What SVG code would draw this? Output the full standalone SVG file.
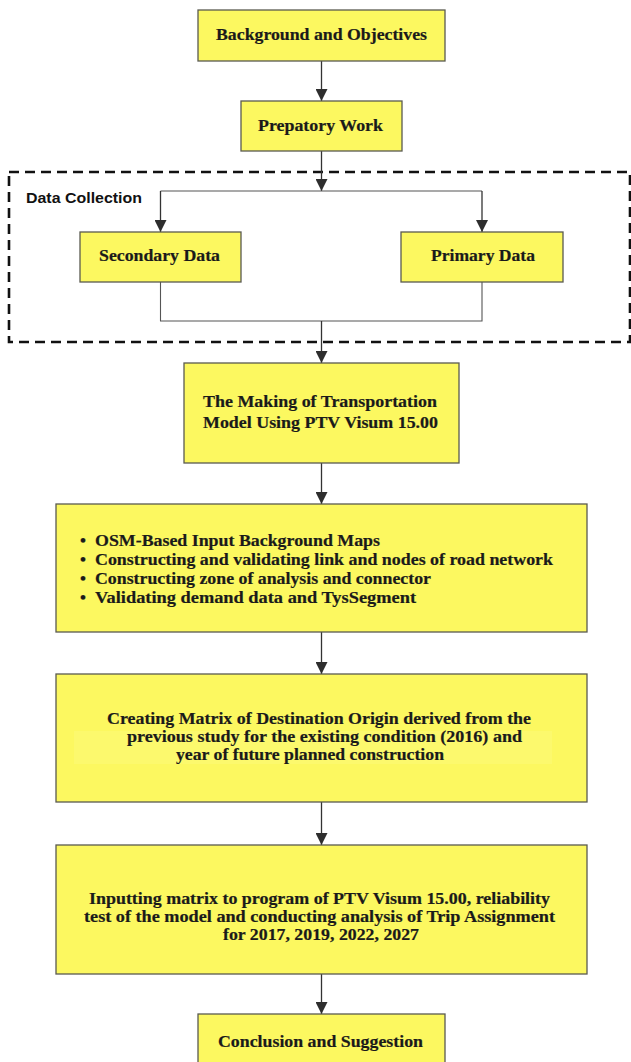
<svg xmlns="http://www.w3.org/2000/svg" width="631" height="1062" viewBox="0 0 631 1062">
<defs>
<marker id="ah" viewBox="0 0 12 12" refX="12" refY="6" markerWidth="12" markerHeight="12" markerUnits="userSpaceOnUse" orient="auto">
<path d="M0,0 L12,6 L0,12 Z" fill="#2e2e2e"/>
</marker>
<style>
.box{fill:#FCF860;stroke:#5a5a50;stroke-width:1.3}
.t{font-family:"Liberation Serif","Times New Roman",serif;font-weight:bold;font-size:17px;fill:#1a1a1a;stroke:#1a1a1a;stroke-width:0.2}
.c{fill:none;stroke:#333;stroke-width:1.3}
.cl{fill:none;stroke:#555;stroke-width:1.1}
.dash{fill:none;stroke:#111;stroke-width:2.6;stroke-dasharray:10 6}
.lbl{font-family:"Liberation Sans",Arial,sans-serif;font-weight:bold;font-size:15.5px;fill:#111}
</style>
</defs>
<rect width="631" height="1062" fill="#ffffff"/>

<g id="data-collection">
<rect class="dash" x="9" y="172" width="621" height="170"/>
<text class="lbl" x="26" y="203" textLength="116" lengthAdjust="spacingAndGlyphs">Data Collection</text>
</g>

<g id="connectors">
<line class="c" x1="321.5" y1="61" x2="321.5" y2="101" marker-end="url(#ah)"/>
<line class="c" x1="321.5" y1="151" x2="321.5" y2="191" marker-end="url(#ah)"/>
<polyline class="cl" points="160.5,191 482,191"/>
<line class="c" x1="160.5" y1="191" x2="160.5" y2="232" marker-end="url(#ah)"/>
<line class="c" x1="482" y1="191" x2="482" y2="232" marker-end="url(#ah)"/>
<polyline class="cl" points="160.5,282 160.5,321 482,321 482,282"/>
<line class="c" x1="321.5" y1="321" x2="321.5" y2="363" marker-end="url(#ah)"/>
<line class="c" x1="321.5" y1="463" x2="321.5" y2="504" marker-end="url(#ah)"/>
<line class="c" x1="321.5" y1="632" x2="321.5" y2="674" marker-end="url(#ah)"/>
<line class="c" x1="321.5" y1="802" x2="321.5" y2="845" marker-end="url(#ah)"/>
<line class="c" x1="321.5" y1="974" x2="321.5" y2="1014" marker-end="url(#ah)"/>
</g>

<g id="background">
<rect class="box" x="198" y="10" width="247" height="51"/>
<text class="t" x="216" y="40" textLength="211" lengthAdjust="spacingAndGlyphs">Background and Objectives</text>
</g>

<g id="preparatory">
<rect class="box" x="241" y="101" width="161" height="50"/>
<text class="t" x="258" y="131" textLength="125" lengthAdjust="spacingAndGlyphs">Prepatory Work</text>
</g>

<g id="secondary">
<rect class="box" x="80" y="232" width="161" height="50"/>
<text class="t" x="99" y="261" textLength="121" lengthAdjust="spacingAndGlyphs">Secondary Data</text>
</g>

<g id="primary">
<rect class="box" x="401" y="232" width="162" height="50"/>
<text class="t" x="431" y="261" textLength="104" lengthAdjust="spacingAndGlyphs">Primary Data</text>
</g>

<g id="model">
<rect class="box" x="184" y="363" width="275" height="100"/>
<text class="t" x="203" y="407" textLength="234" lengthAdjust="spacingAndGlyphs">The Making of Transportation</text>
<text class="t" x="203" y="428" textLength="235" lengthAdjust="spacingAndGlyphs">Model Using PTV Visum 15.00</text>
</g>

<g id="steps">
<rect class="box" x="56" y="504" width="531" height="128"/>
<text class="t" x="80" y="546">•</text>
<text class="t" x="95" y="546" textLength="285" lengthAdjust="spacingAndGlyphs">OSM-Based Input Background Maps</text>
<text class="t" x="80" y="565">•</text>
<text class="t" x="95" y="565" textLength="458" lengthAdjust="spacingAndGlyphs">Constructing and validating link and nodes of road network</text>
<text class="t" x="80" y="584">•</text>
<text class="t" x="95" y="584" textLength="336" lengthAdjust="spacingAndGlyphs">Constructing zone of analysis and connector</text>
<text class="t" x="80" y="603">•</text>
<text class="t" x="95" y="603" textLength="321" lengthAdjust="spacingAndGlyphs">Validating  demand data and TysSegment</text>
</g>

<g id="matrix">
<rect class="box" x="56" y="674" width="531" height="128"/>
<rect x="74" y="731" width="478" height="33" fill="#FDFB8C" opacity="0.3"/>
<text class="t" x="107" y="724" textLength="424" lengthAdjust="spacingAndGlyphs">Creating Matrix of Destination Origin derived from the</text>
<text class="t" x="127" y="742" textLength="395" lengthAdjust="spacingAndGlyphs">previous study  for the existing condition  (2016) and</text>
<text class="t" x="176" y="760" textLength="268" lengthAdjust="spacingAndGlyphs">year of future planned construction</text>
</g>

<g id="assignment">
<rect class="box" x="56" y="845" width="531" height="129"/>
<text class="t" x="89" y="904" textLength="461" lengthAdjust="spacingAndGlyphs">Inputting matrix to program of PTV Visum 15.00, reliability</text>
<text class="t" x="84" y="922" textLength="471" lengthAdjust="spacingAndGlyphs">test of the model and conducting analysis of  Trip Assignment</text>
<text class="t" x="223" y="940" textLength="196" lengthAdjust="spacingAndGlyphs">for 2017, 2019, 2022, 2027</text>
</g>

<g id="conclusion">
<rect class="box" x="198" y="1014" width="247" height="50"/>
<text class="t" x="218" y="1047" textLength="205" lengthAdjust="spacingAndGlyphs">Conclusion and Suggestion</text>
</g>
</svg>
